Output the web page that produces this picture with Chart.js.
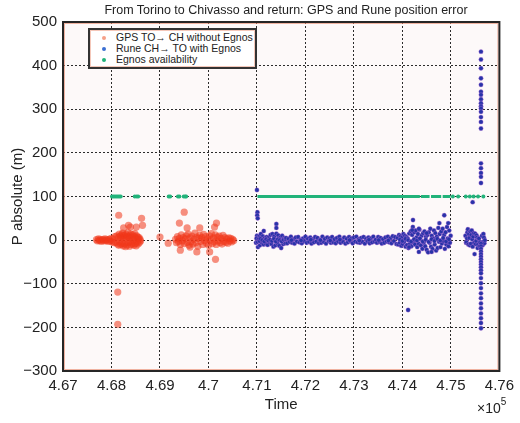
<!DOCTYPE html>
<html>
<head>
<meta charset="utf-8">
<script src="https://cdn.jsdelivr.net/npm/chart.js@4.4.0/dist/chart.umd.min.js"></script>
<style>
  html, body { margin: 0; padding: 0; background: #fff; }
  #wrap { position: relative; width: 520px; height: 423px; font-family: 'Liberation Sans', Arial, sans-serif; color: #222; }
  #chart { position: absolute; left: 0; top: 0; }
  .title { position: absolute; left: 86px; width: 400px; top: 3px; text-align: center; font-size: 12.5px; white-space: nowrap; }
  .legend { position: absolute; left: 88px; top: 28px; width: 165px; height: 35px; border: 2px solid #333;
            box-shadow: inset 0 0 0 1px rgba(230,130,100,0.45); background: #fff; font-size: 10.5px; line-height: 11px; padding-top: 2px; box-sizing: content-box; }
  .lg-row { position: relative; height: 11px; padding-left: 26px; white-space: nowrap; }
  .lg-dot { position: absolute; left: 12px; top: 4px; width: 4px; height: 4px; border-radius: 50%; }
  .xexp { position: absolute; left: 477px; top: 398px; font-size: 14px; }
  .xexp sup { font-size: 10px; position: relative; top: -2px; }
</style>
</head>
<body>
<div id="wrap">
  <canvas id="chart" width="520" height="423"></canvas>
  <div class="title">From Torino to Chivasso and return: GPS and Rune position error</div>
  <div class="legend">
    <div class="lg-row"><span class="lg-dot" style="background:#f6a088"></span>GPS TO→ CH without Egnos</div>
    <div class="lg-row"><span class="lg-dot" style="background:#3b6fd2"></span>Rune CH→ TO with Egnos</div>
    <div class="lg-row"><span class="lg-dot" style="background:#22b37a"></span>Egnos availability</div>
  </div>
  <div class="xexp">×10<sup>5</sup></div>
</div>
<script>
/* ── Data (time in s, error in m) ───────────────────────────── */

const X_MIN = 467000, X_MAX = 476000, X_STEP = 1000;
const Y_MIN = -300, Y_MAX = 500, Y_STEP = 100;

/* GPS Torino → Chivasso, no Egnos */
const GPS_POINTS = [
  [467690, 1], [467710, -2], [467730, 3], [467750, -1], [467770, 2], [467790, -3], [467810, 0], [467830, 2],
  [467850, -2], [467870, 3], [467890, -1], [467910, 1], [467930, -3], [467950, 2], [467970, -2], [467990, 4],
  [468010, -4], [468030, 3], [468050, -6], [468070, 8], [468090, -5], [468110, 10], [468120, -9], [468140, 6],
  [468150, -12], [468160, 14], [468170, -4], [468180, 9], [468190, -10], [468200, 5], [468210, 12], [468220, -7],
  [468230, 16], [468240, -13], [468250, 3], [468260, 11], [468270, -9], [468280, 7], [468290, -15], [468300, 13],
  [468310, 2], [468320, -11], [468330, 9], [468340, 17], [468350, -6], [468360, 6], [468370, -14], [468380, 10],
  [468390, -3], [468400, 14], [468410, -10], [468420, 5], [468430, -7], [468440, 12], [468450, 0], [468460, -12],
  [468470, 8], [468480, 15], [468490, -8], [468500, 4], [468510, -13], [468520, 10], [468530, -4], [468540, 7],
  [468550, -9], [468560, 3], [468570, 6], [468580, -5], [468590, 2], [468600, -2],
  [468149, 57], [468351, 34], [468390, 30], [468512, 30], [468620, 50], [468640, 34], [468250, 28],
  [468129, -119], [468129, -193],
  [469000, 7], [469170, -7],
  [469320, 2], [469340, -6], [469360, 8], [469380, -3], [469400, 4], [469420, -10], [469440, 12], [469460, -2],
  [469480, 6], [469500, -8], [469520, 3], [469540, 10], [469560, -5], [469580, 14], [469600, -12], [469620, 5],
  [469640, -4], [469660, 9], [469680, -9], [469700, 2], [469720, 16], [469740, -6], [469760, 7], [469780, -14],
  [469800, 4], [469820, 11], [469840, -3], [469860, 6], [469880, -10], [469900, 13], [469920, -1], [469940, 8],
  [469960, -7], [469980, 3], [470000, -12], [470020, 10], [470040, 0], [470060, 15], [470080, -8], [470100, 5],
  [470120, -4], [470140, 12], [470160, -10], [470180, 7], [470200, -2], [470220, 9], [470240, -6], [470260, 4],
  [470280, -9], [470300, 11], [470320, -3], [470340, 6], [470360, -5], [470380, 3], [470400, -7], [470420, 5],
  [470440, -2], [470460, 4], [470480, -4], [470500, 2], [470520, -1],
  [469500, 64], [469400, 39], [469560, 28], [469820, 28], [470165, 39], [470125, 30],
  [469760, -27], [470024, -27], [470145, -44], [469420, -23], [469620, -16],
];

/* Rune Chivasso → Torino, with Egnos */
const RUNE_POINTS = [
  // start of the return trip
  [470980, -6], [471000, 10], [471020, -16], [471040, 8], [471060, -12], [471080, 14], [471100, -6], [471120, 9],
  [471140, -10], [471160, 5], [471180, -8], [471200, 7], [471220, -11], [471240, 6], [471260, -5], [471280, 12],
  [471300, -9], [471320, 14], [471340, -15], [471360, 9], [471380, -12], [471400, 15], [471420, -7], [471440, 11],
  [471460, -13], [471480, 6], [471500, -18], [471520, 10], [471540, -9], [471560, 5], [471580, -7],
  [470990, 4], [471010, -4], [471030, 2], [471050, -2], [471070, 3], [471110, 0], [471150, -3], [471190, 2],
  [471230, -1], [471270, 1], [471310, -2], [471350, 3], [471390, -3], [471430, 2], [471470, 0], [471510, -3],
  [471550, 1], [471590, 2],
  // quiet stretch
  [471600, 5], [471625, -7], [471650, 3], [471675, -4], [471700, 8], [471725, -6], [471750, 2], [471775, -8],
  [471800, 6], [471825, -3], [471850, 7], [471875, -5], [471900, 1], [471925, -7], [471950, 4], [471975, -2],
  [472000, 8], [472025, -6], [472050, 3], [472075, -4], [472100, 6], [472125, -8], [472150, 2], [472175, -5],
  [472200, 7], [472225, -3], [472250, 5], [472275, -7], [472300, 1], [472325, -6], [472350, 8], [472375, -4],
  [472400, 3], [472425, -8], [472450, 6], [472475, -2], [472500, 4], [472525, -6], [472550, 7], [472575, -5],
  [472600, 2], [472625, -7], [472650, 5], [472675, -3], [472700, 8], [472725, -6], [472750, 1], [472775, -4],
  [472800, 6], [472825, -8], [472850, 3], [472875, -5], [472900, 7], [472925, -2], [472950, 4], [472975, -7],
  [473000, 6], [473025, -3], [473050, 8], [473075, -5], [473100, 2], [473125, -6], [473150, 5], [473175, -4],
  [473200, 7], [473225, -8], [473250, 3], [473275, -2], [473300, 6], [473325, -7], [473350, 4], [473375, -5],
  [473400, 8], [473425, -3], [473450, 1], [473475, -6], [473500, 7], [473525, -4], [473550, 5], [473575, -8],
  [473600, 2], [473625, -6], [473650, 6], [473675, -3], [473700, 8], [473725, -5], [473750, 4], [473775, -7],
  [473800, 9], [473825, -2], [473850, 7], [473875, -9], [473900, 5],
  [471710, 0], [471910, -1], [472110, 1], [472310, 0], [472510, -1], [472710, 1], [472910, 0], [473110, -1],
  [473310, 1], [473510, 0], [473710, -1],
  // noisy stretch near the end
  [473915, -10], [473930, 12], [473945, -6], [473960, 9], [473975, -13], [473990, 6], [474005, -9], [474020, 14],
  [474035, -4], [474050, 10], [474065, -15], [474080, 7], [474095, -11], [474110, 4], [474125, -18], [474140, 15],
  [474155, -8], [474170, 20], [474185, -14], [474200, 12], [474215, 30], [474230, -5], [474245, 18], [474260, -10],
  [474275, 22], [474290, 6], [474305, -16], [474320, 14], [474335, -8], [474350, 24], [474365, 2], [474380, -12],
  [474395, 10], [474410, -20], [474425, 16], [474440, -6], [474455, 20], [474470, -14], [474485, 8], [474500, -22],
  [474515, 12], [474530, -28], [474545, 18], [474560, -6], [474575, 26], [474590, -15], [474605, 10], [474620, -20],
  [474635, 4], [474650, 22], [474665, -10], [474680, 16], [474695, -24], [474710, 8], [474725, -18], [474740, 28],
  [474755, -4], [474770, 14], [474785, -16], [474800, 20], [474815, -8], [474830, 26], [474845, -2], [474860, 12],
  [474875, -20], [474890, 18], [474905, -10], [474920, 30], [474935, 4], [474950, -14], [474965, 22], [474980, -6],
  [474995, 10],
  [473950, 1], [474000, -2], [474060, 3], [474120, 0], [474180, -3], [474240, 2], [474300, -1], [474360, 4],
  [474420, -3], [474480, 1], [474540, -4], [474600, 2], [474660, -2], [474720, 3], [474780, -1], [474840, 5],
  [474900, -3], [474960, 2],
  // isolated outliers
  [471000, 115], [471010, 64], [471005, 57], [471015, 50], [471140, 21], [471400, 37], [471400, 28],
  [474117, -160], [474218, 46], [474200, 23], [474340, 26], [474500, 16], [474762, 39], [474863, 57],
  [474944, 39], [474339, -27], [474137, -16], [474601, -27],
  // last cluster
  [475300, 10], [475312, -6], [475320, -4], [475332, 4], [475340, 18], [475350, 25], [475360, -10], [475370, 14],
  [475380, 5], [475392, -12], [475400, 20], [475410, -8], [475420, 12], [475430, 22], [475440, 2], [475450, -15],
  [475460, 8], [475470, 16], [475480, -6], [475488, -32], [475500, 15], [475510, -9], [475520, -2], [475530, 11],
  [475540, 6], [475550, -18], [475560, -10], [475570, 3], [475580, 4], [475590, -14], [475600, -5], [475640, 10],
  [475652, -12], [475660, -4], [475670, 14], [475680, 6], [475690, -7], [475700, 0],
  [475448, 87],
  [475620, 432], [475620, 414], [475620, 394], [475620, 371], [475620, 356], [475620, 340], [475620, 333],
  [475620, 323], [475620, 314], [475620, 307], [475620, 302], [475620, 294], [475620, 282], [475620, 271],
  [475620, 256], [475620, 176], [475620, 165], [475620, 154], [475620, 145], [475620, 131],
  [475620, -8], [475620, -14], [475620, -20], [475620, -26], [475620, -32], [475620, -38], [475620, -44],
  [475620, -50], [475620, -56], [475620, -62], [475620, -69], [475620, -76], [475620, -87], [475620, -99],
  [475620, -110], [475620, -122], [475620, -133], [475620, -145], [475620, -156], [475620, -168], [475620, -179],
  [475620, -190], [475620, -202],
];

/* Egnos availability (flag drawn at 100 m) */
const EGNOS_LEVEL = 100;
const EGNOS_SPANS = [[471010, 474360], [474380, 474560], [474590, 474800], [474830, 474990]];
const EGNOS_DOTS = [
  468010, 468040, 468070, 468100, 468130, 468160, 468190, 468480, 468520, 468550,
  469180, 469210, 469370, 469400, 469490, 469520, 469540,
  475040, 475150, 475306, 475390, 475468, 475560, 475669,
];

/* ── Chart ───────────────────────────────────────────────────── */

const FONT = "'Liberation Sans', Arial, sans-serif";
const toXY = arr => arr.map(([x, y]) => ({ x, y }));

const egnosLine = EGNOS_SPANS.flatMap(([a, b]) => [
  { x: a, y: EGNOS_LEVEL }, { x: b, y: EGNOS_LEVEL }, { x: b + 1, y: null },
]);

const framePlugin = {
  id: 'frame',
  beforeDraw(chart) {
    const { ctx, chartArea: a } = chart;
    ctx.save();
    ctx.fillStyle = '#fdf9f9';
    ctx.fillRect(a.left, a.top, a.right - a.left, a.bottom - a.top);
    ctx.restore();
  },
  afterDraw(chart) {
    const { ctx, chartArea: a } = chart;
    ctx.save();
    ctx.strokeStyle = 'rgba(230,130,100,0.6)';
    ctx.lineWidth = 1;
    ctx.strokeRect(a.left + 1.5, a.top + 1.5, a.right - a.left - 3, a.bottom - a.top - 3);
    ctx.strokeStyle = '#262626';
    ctx.lineWidth = 2;
    ctx.strokeRect(a.left, a.top, a.right - a.left, a.bottom - a.top);
    ctx.restore();
  },
};

const gridStyle = { color: 'rgba(20,20,20,0.9)', lineWidth: 1, drawTicks: false };

new Chart(document.getElementById('chart'), {
  type: 'scatter',
  data: {
    datasets: [
      {
        label: 'Rune CH→ TO with Egnos',
        data: toXY(RUNE_POINTS),
        backgroundColor: '#2733a8',
        borderColor: 'rgba(200,120,220,0.35)',
        borderWidth: 1,
        pointRadius: 2.2,
        order: 1,
      },
      {
        label: 'GPS TO→ CH without Egnos',
        data: toXY(GPS_POINTS),
        backgroundColor: 'rgba(240,55,25,0.55)',
        borderWidth: 0,
        pointRadius: 3.6,
        order: 2,
      },
      {
        label: 'Egnos availability',
        data: EGNOS_DOTS.map(x => ({ x, y: EGNOS_LEVEL })),
        backgroundColor: '#22b37a',
        borderWidth: 0,
        pointRadius: 2,
        order: 3,
      },
      {
        label: 'Egnos span',
        data: egnosLine,
        showLine: true,
        spanGaps: false,
        borderColor: '#22b37a',
        borderWidth: 3,
        pointRadius: 0,
        order: 4,
      },
    ],
  },
  options: {
    responsive: false,
    animation: false,
    devicePixelRatio: 1,
    layout: { padding: { top: 22, right: 11, left: 0, bottom: 0 }, autoPadding: false },
    plugins: {
      legend: { display: false },
      tooltip: { enabled: false },
    },
    scales: {
      x: {
        type: 'linear',
        min: X_MIN,
        max: X_MAX,
        afterFit: s => { s.height = 52; },
        grid: gridStyle,
        border: { display: false, dash: [2, 2] },
        ticks: {
          stepSize: X_STEP,
          color: '#222',
          padding: 6,
          maxRotation: 0,
          autoSkip: false,
          font: { family: FONT, size: 15 },
          callback: v => String(+(v / 1e5).toFixed(2)),
        },
        title: {
          display: true,
          text: 'Time',
          color: '#222',
          padding: { top: 0, bottom: 9 },
          font: { family: FONT, size: 15 },
        },
      },
      y: {
        min: Y_MIN,
        max: Y_MAX,
        afterFit: s => { s.width = 63; },
        grid: gridStyle,
        border: { display: false, dash: [2, 2] },
        ticks: {
          stepSize: Y_STEP,
          color: '#222',
          padding: 6,
          font: { family: FONT, size: 15 },
          callback: v => String(v).replace('-', '\u2212'),
        },
        title: {
          display: true,
          text: 'P absolute (m)',
          color: '#222',
          padding: { top: 9, bottom: 0 },
          font: { family: FONT, size: 15 },
        },
      },
    },
  },
  plugins: [framePlugin],
});
</script>
</body>
</html>
